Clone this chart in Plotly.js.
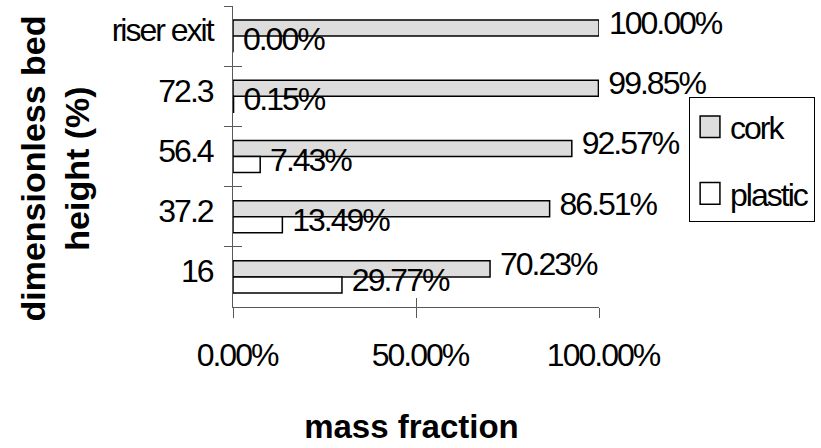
<!DOCTYPE html>
<html>
<head>
<meta charset="utf-8">
<script src="https://cdn.plot.ly/plotly-3.0.1.min.js"></script>
<style>
html, body { margin: 0; padding: 0; background: #fff; }
#chart { width: 821px; height: 448px; }
text { letter-spacing: -2px; }
text.xtitle, text.ytitle { letter-spacing: 0px; }
#chart text.bartext { translate: 0px -5px; }
#chart text.ytitle { translate: 0px 12px; }
.legendpoints path { transform: translate(20px, 0px) scale(1.65, 1.8); vector-effect: non-scaling-stroke; }
</style>
</head>
<body>
<div id="chart"></div>
<script>
// Categories (bottom to top)
const heights = ["16", "37.2", "56.4", "72.3", "riser exit"];
// Mass fractions
const cork = [0.7023, 0.8651, 0.9257, 0.9985, 1.0000];
const plastic = [0.2977, 0.1349, 0.0743, 0.0015, 0.0000];
const xTicks = [0, 0.5, 1];
const yBoundaries = [-0.5, 0.5, 1.5, 2.5, 3.5, 4.5];

const FONT = 'Liberation Sans, Arial, sans-serif';
const NB = '\u00A0';

// cork first so that plastic labels are drawn above the cork bars;
// the category axis is reversed so cork still sits above plastic in each group
const traces = [
  {
    type: 'bar', orientation: 'h', name: 'cork',
    y: heights, x: cork,
    marker: { color: '#dddddd', line: { color: '#000000', width: 1.5 } },
    texttemplate: NB + '%{x:.2%}', textposition: 'outside', cliponaxis: false,
    constraintext: 'none',
    textfont: { family: FONT, size: 32, color: '#000' },
    legendgroup: 'c', legendrank: 1, hoverinfo: 'x+y'
  },
  {
    type: 'bar', orientation: 'h', name: 'plastic',
    y: heights, x: plastic,
    marker: { color: '#ffffff', line: { color: '#000000', width: 1.5 } },
    texttemplate: NB + '%{x:.2%}', textposition: 'outside', cliponaxis: false,
    constraintext: 'none',
    textfont: { family: FONT, size: 32, color: '#000' },
    legendgroup: 'p', legendrank: 2, hoverinfo: 'x+y'
  },
  {
    type: 'scatter', x: [], y: [], xaxis: 'x2', yaxis: 'y2',
    showlegend: false, hoverinfo: 'skip'
  }
];

const axisColor = '#595959';

const layout = {
  width: 821, height: 448,
  margin: { l: 233, r: 222, t: 6, b: 141, pad: 0 },
  paper_bgcolor: '#ffffff', plot_bgcolor: '#ffffff',
  font: { family: FONT, size: 32, color: '#000' },
  barmode: 'group', bargap: 0.467, bargroupgap: 0,
  showlegend: true,
  legend: {
    x: 1.246, y: 0.697, xanchor: 'left', yanchor: 'top',
    traceorder: 'grouped', tracegroupgap: 22,
    bordercolor: '#000', borderwidth: 1, bgcolor: '#fff',
    font: { family: FONT, size: 32, color: '#000' },
    title: { text: NB, font: { family: FONT, size: 1, color: '#000' } },
    itemwidth: 30, entrywidth: 90, entrywidthmode: 'pixels'
  },
  xaxis: {
    range: [0, 1], tickvals: xTicks, tickformat: '.2%',
    showgrid: false, zeroline: false,
    showline: true, linecolor: axisColor, linewidth: 1,
    ticks: 'outside', ticklen: 10, tickcolor: axisColor, tickwidth: 1,
    ticklabelstandoff: 10, ticklabelshift: 4,
    tickfont: { family: FONT, size: 32, color: '#000' },
    title: { text: '<b>mass fraction' + NB + '</b>', font: { family: FONT, size: 33, color: '#000' }, standoff: 42 },
    fixedrange: true
  },
  yaxis: {
    type: 'category', categoryorder: 'array', categoryarray: heights.slice().reverse(),
    autorange: 'reversed',
    showgrid: false, zeroline: false,
    showline: true, linecolor: axisColor, linewidth: 1,
    ticks: 'outside', tickson: 'boundaries', ticklen: 8, tickcolor: axisColor, tickwidth: 1,
    ticklabelstandoff: 13, ticklabelshift: 6,
    tickfont: { family: FONT, size: 32, color: '#000' },
    title: { text: '<b>dimensionless bed<br>height (%)</b>', font: { family: FONT, size: 34, color: '#000' }, standoff: 11 },
    fixedrange: true
  },
  xaxis2: {
    overlaying: 'x', anchor: 'y', side: 'bottom', range: [0, 1],
    tickvals: xTicks, ticks: 'inside', ticklen: 9, tickcolor: axisColor, tickwidth: 1,
    showticklabels: false, showgrid: false, zeroline: false, showline: false, fixedrange: true
  },
  yaxis2: {
    overlaying: 'y', anchor: 'x', side: 'left', range: [-0.5, 4.5],
    tickvals: yBoundaries, ticks: 'inside', ticklen: 9, tickcolor: axisColor, tickwidth: 1,
    showticklabels: false, showgrid: false, zeroline: false, showline: false, fixedrange: true
  }
};

Plotly.newPlot('chart', traces, layout, { displayModeBar: false });
</script>
</body>
</html>
